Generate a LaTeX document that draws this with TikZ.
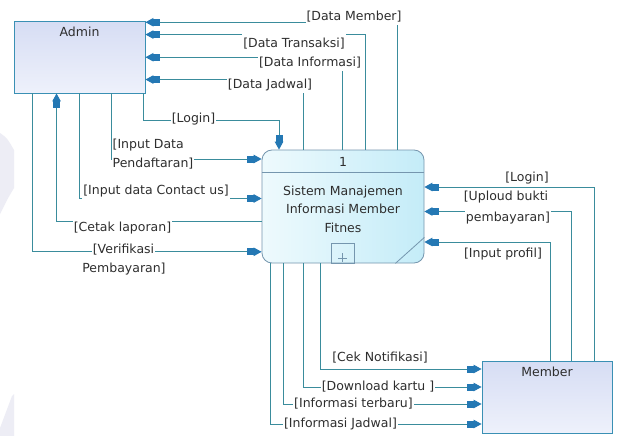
\documentclass[tikz,border=0pt]{standalone}
\usepackage{fontspec}
\setmainfont{DejaVu Sans}
\usetikzlibrary{arrows.meta}
\definecolor{linec}{HTML}{3A8C9C}
\definecolor{arrc}{HTML}{2478B4}
\definecolor{txtc}{HTML}{2E2E2E}
\definecolor{entbd}{HTML}{3A90B4}
\definecolor{prcbd}{HTML}{7596AE}
\definecolor{entA}{HTML}{D6DDF4}
\definecolor{entB}{HTML}{EEF1FB}
\definecolor{prcA}{HTML}{EEFAFD}
\definecolor{prcB}{HTML}{C4ECF8}
\definecolor{wmark}{HTML}{EDEDF5}
\begin{document}
\begin{tikzpicture}[x=1pt,y=-1pt,
  flow/.style={draw=linec,line width=1pt},
  into/.style={flow,-{Rectangle[length=7pt,width=7pt,sep=0pt,color=arrc]Triangle[length=8pt,width=8.5pt,color=arrc]}},
  lbl/.style={font=\fontsize{12.5}{18.5}\selectfont,text=txtc,inner xsep=1pt,inner ysep=2.5pt},
  lblw/.style={lbl,fill=white},
  ent/.style={draw=entbd,line width=0.9pt,top color=entA,bottom color=entB,inner sep=0pt},
  enttext/.style={anchor=north,inner sep=0pt,font=\fontsize{12.5}{15}\selectfont,text=txtc},
  proc/.style={draw=prcbd,line width=0.8pt,rounded corners=10pt,left color=prcA,right color=prcB,
    align=center,font=\fontsize{12.5}{18.5}\selectfont,text=txtc,inner sep=0pt}]

% canvas and faint background marks at the left edge
\useasboundingbox (0,0) rectangle (621,436);
\fill[white] (0,0) rectangle (621,436);
\fill[wmark] (0,133) .. controls (7,138) .. (14,150) -- (14,188) .. controls (8,198) .. (0,214) -- cycle;
\fill[wmark] (12,396) -- (14,394) -- (14,436) -- (0,436) -- (0,428) -- cycle;

% external entities
\node[ent,minimum width=131pt,minimum height=71.5pt,
  label={[enttext,yshift=-6pt]north:Admin}] (admin) at (79.5,57.25) {};
\node[ent,minimum width=130pt,minimum height=72pt,
  label={[enttext,yshift=-6pt]north:Member}] (member) at (547,397) {};

% process
\node[proc,minimum width=162pt,minimum height=113pt] (sys) at (343,206.5)
  {\\[-4pt]Sistem Manajemen\\Informasi Member\\Fitnes};
\draw[prcbd,line width=0.8pt] ([yshift=-23pt]sys.north west) -- ([yshift=-23pt]sys.north east);
\node[font=\fontsize{12.5}{15}\selectfont,text=txtc,inner sep=0pt] (sysnum) at ([yshift=-12pt]sys.north) {1};
\draw[prcbd,line width=0.8pt] ([xshift=-12pt]sys.south) rectangle ([xshift=11pt,yshift=20pt]sys.south);
\draw[prcbd,line width=0.7pt] ([xshift=-0.5pt,yshift=10pt]sys.south) -- ([xshift=-0.5pt,yshift=1pt]sys.south)
  ([xshift=-5pt,yshift=5.5pt]sys.south) -- ([xshift=4pt,yshift=5.5pt]sys.south);
\draw[prcbd,line width=0.8pt] ([xshift=-29pt]sys.south east) -- ([yshift=26pt]sys.south east);

% flows from the process to Admin
\draw[into] ([xshift=54pt]sys.north) |- ([yshift=-1.2pt]admin.north east);
\draw[into] ([xshift=22pt]sys.north) |- ([yshift=-13.5pt]admin.north east);
\draw[into] ([xshift=-1pt]sys.north) |- ([yshift=-36.2pt]admin.north east);
\draw[into] ([xshift=-40pt]sys.north) |- ([yshift=-58.5pt]admin.north east);
\draw[into] ([yshift=-14.7pt]sys.west) -| ([xshift=43pt]admin.south west);

% flows from Admin to the process
\draw[into] ([xshift=-2pt]admin.south east) -- ++(0,27) -| ([xshift=-64pt]sys.north);
\draw[into] ([xshift=98pt]admin.south west) |- ([yshift=47.5pt]sys.west);
\draw[into] ([xshift=66pt]admin.south west) |- ([yshift=8pt]sys.west);
\draw[into] ([xshift=19pt]admin.south west) |- ([yshift=-45.3pt]sys.west);

% flows from Member to the process
\draw[into] ([xshift=113pt]member.north west) |- ([yshift=19.5pt]sys.east);
\draw[into] ([xshift=90pt]member.north west) |- ([yshift=-5pt]sys.east);
\draw[into] ([xshift=69pt]member.north west) |- ([yshift=-35.5pt]sys.east);

% flows from the process to Member
\draw[into] ([xshift=59pt]sys.south west) |- ([yshift=28pt]member.west);
\draw[into] ([xshift=42pt]sys.south west) |- ([yshift=10pt]member.west);
\draw[into] ([xshift=22pt]sys.south west) |- ([yshift=-7pt]member.west);
\draw[into] ([xshift=9pt]sys.south west) |- ([yshift=-27pt]member.west);

% flow labels
\node[lblw] (lDM) at (354,16.5) {[Data Member]};
\node[lblw,inner ysep=3.5pt] (lDT) at (294,43.5) {[Data Transaksi]};
\node[lblw] (lDI) at (310,62.5) {[Data Informasi]};
\node[lblw] (lDJ) at (270,85) {[Data Jadwal]};
\node[lblw] (lLA) at (193.5,119.5) {[Login]};
\node[lblw,align=left] (lIP) at (153,154) {[Input Data\\Pendaftaran]};
\node[lblw] (lIC) at (156,191.5) {[Input data Contact us]};
\node[lblw] (lCL) at (122.5,228) {[Cetak laporan]};
\node[lblw] (lVP) at (123.5,250) {[Verifikasi};
\node[lbl] (lVP2) at (124,269.5) {Pembayaran]};
\node[lbl] (lLM) at (527,178) {[Login]};
\node[lbl] (lUB) at (506,197.5) {[Uploud bukti};
\node[lblw] (lUB2) at (508,218) {pembayaran]};
\node[lbl] (lPR) at (503,254.5) {[Input profil]};
\node[lbl] (lCN) at (380,357.5) {[Cek Notifikasi]};
\node[lblw] (lDK) at (378,386.5) {[Download kartu ]};
\node[lblw] (lIT) at (353.5,404) {[Informasi terbaru]};
\node[lblw] (lIJ) at (340.5,423.5) {[Informasi Jadwal]};
\end{tikzpicture}
\end{document}
